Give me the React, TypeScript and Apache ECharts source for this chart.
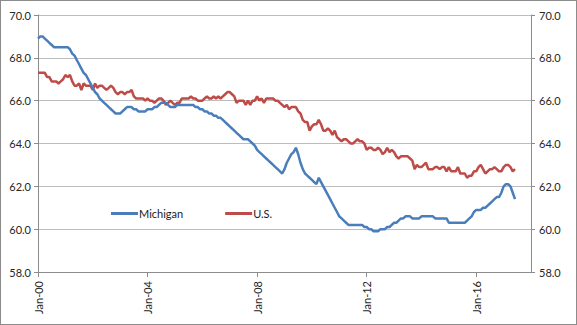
import React, { useEffect, useRef } from "react";
import * as echarts from "echarts";

// Months since Jan-2000
const michigan: number[] = [
  68.9, 69.0, 69.0, 68.9, 68.8, 68.7, 68.6, 68.5, 68.5, 68.5, 68.5, 68.5,
  68.5, 68.5, 68.4, 68.2, 68.1, 67.9, 67.7, 67.5, 67.3, 67.2, 67.0, 66.8,
  66.6, 66.4, 66.3, 66.1, 66.0, 65.9, 65.8, 65.7, 65.6, 65.5, 65.4, 65.4,
  65.4, 65.5, 65.6, 65.7, 65.7, 65.7, 65.6, 65.6, 65.5, 65.5, 65.5, 65.5,
  65.6, 65.6, 65.6, 65.7, 65.7, 65.8, 65.9, 65.9, 65.9, 65.8, 65.7, 65.7,
  65.7, 65.8, 65.8, 65.8, 65.8, 65.8, 65.8, 65.8, 65.8, 65.7, 65.7, 65.6,
  65.6, 65.5, 65.5, 65.4, 65.4, 65.3, 65.3, 65.2, 65.2, 65.1, 65.0, 64.9,
  64.8, 64.7, 64.6, 64.5, 64.4, 64.3, 64.2, 64.2, 64.2, 64.1, 64.0, 63.9,
  63.7, 63.6, 63.5, 63.4, 63.3, 63.2, 63.1, 63.0, 62.9, 62.8, 62.7, 62.6,
  62.8, 63.1, 63.3, 63.5, 63.6, 63.8, 63.5, 63.1, 62.8, 62.6, 62.5, 62.4,
  62.3, 62.2, 62.1, 62.4, 62.2, 62.0, 61.8, 61.6, 61.4, 61.2, 61.0, 60.8,
  60.6, 60.5, 60.4, 60.3, 60.2, 60.2, 60.2, 60.2, 60.2, 60.2, 60.2, 60.1,
  60.1, 60.0, 60.0, 59.9, 59.9, 59.9, 60.0, 60.0, 60.0, 60.1, 60.1, 60.2,
  60.3, 60.3, 60.4, 60.5, 60.5, 60.6, 60.6, 60.6, 60.5, 60.5, 60.5, 60.5,
  60.6, 60.6, 60.6, 60.6, 60.6, 60.6, 60.5, 60.5, 60.5, 60.5, 60.5, 60.5,
  60.3, 60.3, 60.3, 60.3, 60.3, 60.3, 60.3, 60.3, 60.4, 60.5, 60.6, 60.8,
  60.9, 60.9, 60.9, 61.0, 61.0, 61.1, 61.2, 61.3, 61.4, 61.5, 61.5, 61.7,
  62.0, 62.1, 62.1, 62.0, 61.7, 61.4,
];

const us: number[] = [
  67.3, 67.3, 67.3, 67.3, 67.1, 67.1, 66.9, 66.9, 66.9, 66.8, 66.9, 67.0,
  67.2, 67.1, 67.2, 66.9, 66.7, 66.7, 66.8, 66.5, 66.8, 66.7, 66.7, 66.7,
  66.5, 66.8, 66.6, 66.7, 66.7, 66.6, 66.5, 66.6, 66.7, 66.6, 66.4, 66.3,
  66.4, 66.4, 66.3, 66.4, 66.4, 66.5, 66.2, 66.1, 66.1, 66.1, 66.1, 66.0,
  66.1, 66.0, 66.0, 65.9, 66.0, 66.1, 66.1, 66.0, 65.8, 65.9, 66.0, 65.9,
  65.8, 65.9, 65.9, 66.1, 66.1, 66.1, 66.1, 66.2, 66.1, 66.1, 66.0, 66.0,
  66.0, 66.1, 66.2, 66.1, 66.1, 66.2, 66.1, 66.2, 66.1, 66.2, 66.3, 66.4,
  66.4, 66.3, 66.2, 65.9, 66.0, 66.0, 66.0, 65.8, 66.0, 65.8, 66.0, 66.0,
  66.2, 66.0, 66.1, 65.9, 66.1, 66.1, 66.1, 66.1, 66.0, 66.0, 65.9, 65.8,
  65.7, 65.8, 65.6, 65.7, 65.7, 65.7, 65.5, 65.4, 65.1, 65.0, 65.0, 64.6,
  64.8, 64.9, 64.9, 65.1, 64.9, 64.6, 64.6, 64.7, 64.6, 64.4, 64.6, 64.3,
  64.2, 64.1, 64.2, 64.2, 64.1, 64.0, 64.0, 64.1, 64.2, 64.1, 64.1, 64.0,
  63.7, 63.8, 63.8, 63.7, 63.7, 63.8, 63.7, 63.5, 63.6, 63.8, 63.6, 63.7,
  63.6, 63.4, 63.3, 63.4, 63.4, 63.4, 63.4, 63.3, 63.2, 62.8, 63.0, 62.9,
  62.9, 63.0, 63.1, 62.8, 62.8, 62.8, 62.9, 62.9, 62.8, 62.9, 62.9, 62.7,
  62.9, 62.7, 62.7, 62.7, 62.9, 62.6, 62.6, 62.6, 62.4, 62.5, 62.5, 62.7,
  62.7, 62.9, 63.0, 62.8, 62.6, 62.7, 62.8, 62.8, 62.9, 62.8, 62.7, 62.7,
  62.9, 63.0, 63.0, 62.9, 62.7, 62.8,
];

const seriesNames = ["Michigan", "U.S."];
const xTickInterval = 48; // months between labels
const xMax = 216;
const yMin = 58;
const yMax = 70;
const yInterval = 2;

const fmtX = (m: number) => {
  if (m % 48 !== 0) return "";
  const y = Math.round(m / 12) % 100;
  return "Jan-" + (y < 10 ? "0" + y : String(y));
};

export default function App() {
  const ref = useRef<HTMLDivElement>(null);
  useEffect(() => {
    if (!ref.current) return;
    const chart = echarts.init(ref.current, undefined, { renderer: "svg" });
    const font = "Lato, 'Liberation Sans', sans-serif";
    const axisLabelStyle = { color: "#262626", fontSize: 11, fontFamily: font };
    chart.setOption({
      animation: false,
      backgroundColor: "#ffffff",
      grid: { left: 37, right: 45, top: 14, bottom: 52, containLabel: false },
      legend: {
        data: seriesNames,
        left: 105,
        top: 202,
        icon: "rect",
        itemWidth: 27,
        itemHeight: 3,
        itemGap: 42,
        textStyle: { color: "#1a1a1a", fontSize: 11, fontFamily: font, padding: [0, 0, 0, -4] },
      },
      xAxis: {
        type: "value",
        min: 0,
        max: xMax,
        interval: xTickInterval,
        axisLine: { show: true, onZero: false, lineStyle: { color: "#8c8c8c", width: 1 } },
        axisTick: { show: true, length: 5, lineStyle: { color: "#8c8c8c" } },
        splitLine: { show: false },
        axisLabel: { ...axisLabelStyle, rotate: 90, margin: 9, formatter: fmtX, showMaxLabel: false },
      },
      yAxis: [
        {
          type: "value",
          min: yMin,
          max: yMax,
          interval: yInterval,
          position: "left",
          axisLine: { show: true, lineStyle: { color: "#8c8c8c" } },
          axisTick: { show: true, length: 4, lineStyle: { color: "#8c8c8c" } },
          splitLine: { show: true, lineStyle: { color: "#bdbdbd", width: 1 } },
          axisLabel: { ...axisLabelStyle, margin: 7, formatter: (v: number) => v.toFixed(1) },
        },
        {
          type: "value",
          min: yMin,
          max: yMax,
          interval: yInterval,
          position: "right",
          axisLine: { show: true, lineStyle: { color: "#8c8c8c" } },
          axisTick: { show: true, length: 4, lineStyle: { color: "#8c8c8c" } },
          splitLine: { show: false },
          axisLabel: { ...axisLabelStyle, margin: 8, formatter: (v: number) => v.toFixed(1) },
        },
      ],
      series: [
        {
          name: seriesNames[0],
          type: "line",
          data: michigan.map((v, i) => [i, v]),
          symbol: "none",
          lineStyle: { color: "#4A7EBB", width: 2.5 },
          itemStyle: { color: "#4A7EBB" },
          z: 3,
        },
        {
          name: seriesNames[1],
          type: "line",
          data: us.map((v, i) => [i, v]),
          symbol: "none",
          lineStyle: { color: "#BE4B48", width: 2.5 },
          itemStyle: { color: "#BE4B48" },
          z: 2,
        },
      ],
    });
    return () => chart.dispose();
  }, []);
  return (
    <div
      style={{
        position: "fixed",
        left: 0,
        top: 0,
        width: 577,
        height: 325,
        boxSizing: "border-box",
        border: "1px solid #8c8c8c",
        background: "#fff",
      }}
    >
      <div ref={ref} style={{ width: 575, height: 323 }} />
    </div>
  );
}
